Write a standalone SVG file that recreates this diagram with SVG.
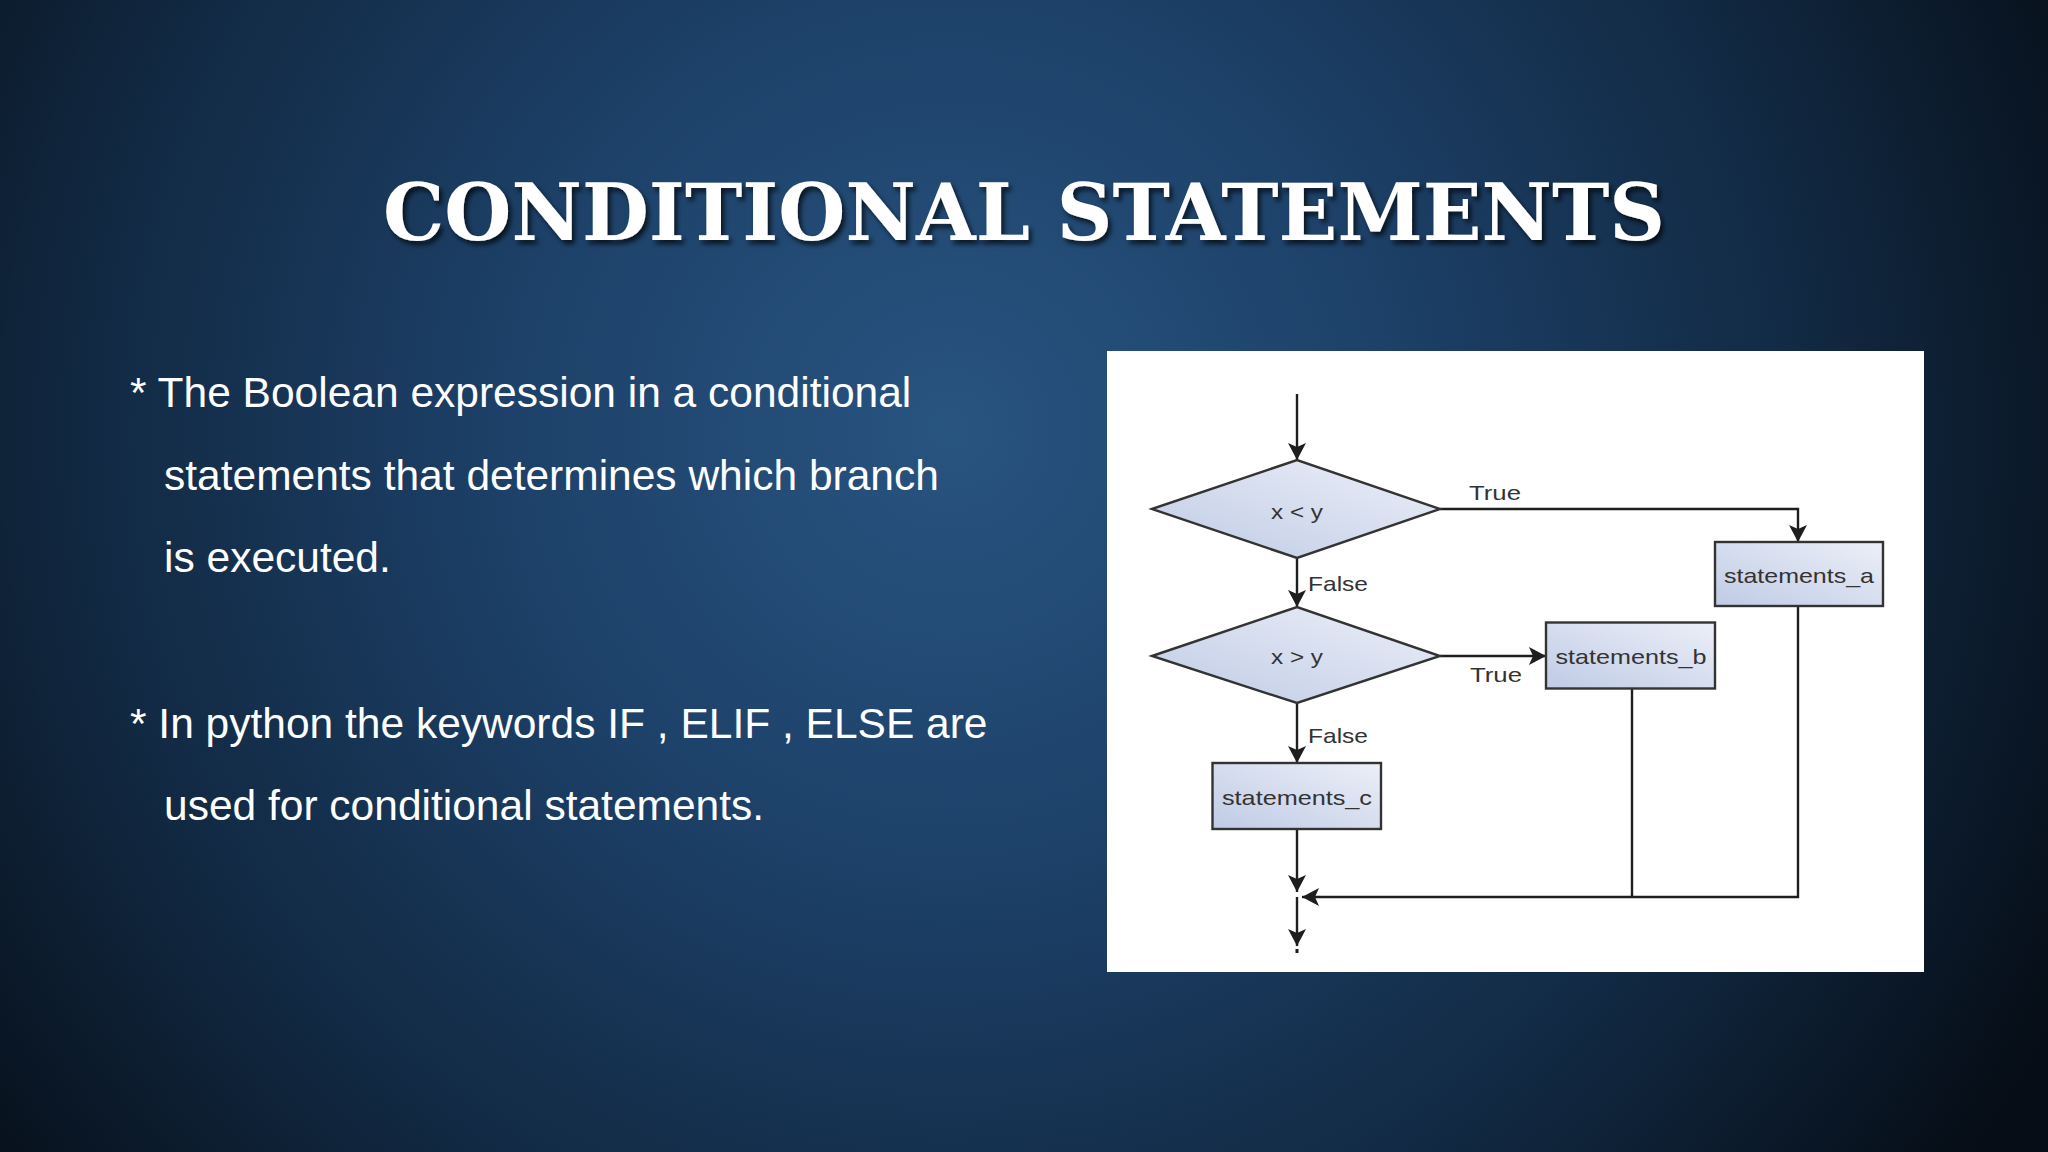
<svg xmlns="http://www.w3.org/2000/svg" width="2048" height="1152" viewBox="0 0 2048 1152">
  <defs>
    <radialGradient id="bg" cx="950" cy="430" r="1250" gradientUnits="userSpaceOnUse">
      <stop offset="0" stop-color="#285480"/>
      <stop offset="0.35" stop-color="#1d4169"/>
      <stop offset="0.7" stop-color="#112841"/>
      <stop offset="1" stop-color="#060d16"/>
    </radialGradient>
    <linearGradient id="nodeFill" x1="0" y1="1" x2="1" y2="0">
      <stop offset="0" stop-color="#bfcbe5"/>
      <stop offset="1" stop-color="#eceff8"/>
    </linearGradient>
    <filter id="shadow" x="-5%" y="-20%" width="110%" height="150%">
      <feDropShadow dx="3" dy="4" stdDeviation="2.5" flood-color="#000" flood-opacity="0.7"/>
    </filter>
    <marker id="arrow" viewBox="0 0 17 18" refX="17" refY="9" markerWidth="17" markerHeight="18" markerUnits="userSpaceOnUse" orient="auto">
      <path d="M0,0 L17,9 L0,18 L4,9 z" fill="#1e1e1e"/>
    </marker>
    <style>
      .title { font-family: "DejaVu Serif", "Liberation Serif", serif; font-weight: bold; font-size: 79px; fill: #ffffff; }
      .body { font-family: "Liberation Sans", Arial, sans-serif; font-size: 42.5px; fill: #ffffff; }
      .node { fill: url(#nodeFill); stroke: #333; stroke-width: 2.4; }
      .lbl { font-family: "Liberation Sans", Arial, sans-serif; font-size: 21px; fill: #333; }
      .conn { fill: none; stroke: #1e1e1e; stroke-width: 2.4; }
    </style>
  </defs>

  <rect x="0" y="0" width="2048" height="1152" fill="url(#bg)"/>

  <g id="title">
    <text class="title" x="383" y="240" textLength="1282" lengthAdjust="spacingAndGlyphs" filter="url(#shadow)">CONDITIONAL STATEMENTS</text>
  </g>

  <g id="body-text">
    <text class="body" x="130" y="407">* The Boolean expression in a conditional</text>
    <text class="body" x="164" y="490">statements that determines which branch</text>
    <text class="body" x="164" y="572">is executed.</text>
    <text class="body" x="130" y="738">* In python the keywords IF , ELIF , ELSE are</text>
    <text class="body" x="164" y="820">used for conditional statements.</text>
  </g>

  <g id="panel">
    <rect x="1107" y="351" width="817" height="621" fill="#ffffff"/>
  </g>

  <g id="connectors">
    <path class="conn" d="M1297,394 V460" marker-end="url(#arrow)"/>
    <path class="conn" d="M1440,509 H1798 V542" marker-end="url(#arrow)"/>
    <path class="conn" d="M1297,558 V607" marker-end="url(#arrow)"/>
    <path class="conn" d="M1440,656 H1546" marker-end="url(#arrow)"/>
    <path class="conn" d="M1297,703 V763" marker-end="url(#arrow)"/>
    <path class="conn" d="M1297,829 V892" marker-end="url(#arrow)"/>
    <path class="conn" d="M1632,688 V897"/>
    <path class="conn" d="M1798,606 V897 H1302" marker-end="url(#arrow)"/>
    <path class="conn" d="M1297,897 V946" marker-end="url(#arrow)"/>
    <rect x="1295.5" y="949" width="3" height="4" fill="#1e1e1e"/>
    <text class="lbl" x="1469" y="500" textLength="52" lengthAdjust="spacingAndGlyphs">True</text>
    <text class="lbl" x="1308" y="591" textLength="60" lengthAdjust="spacingAndGlyphs">False</text>
    <text class="lbl" x="1470" y="682" textLength="52" lengthAdjust="spacingAndGlyphs">True</text>
    <text class="lbl" x="1308" y="743" textLength="60" lengthAdjust="spacingAndGlyphs">False</text>
  </g>

  <g id="cond1">
    <polygon class="node" points="1152,509 1297,460 1440,509 1297,558"/>
    <text class="lbl" x="1297" y="519" text-anchor="middle" textLength="52" lengthAdjust="spacingAndGlyphs">x &lt; y</text>
  </g>

  <g id="cond2">
    <polygon class="node" points="1152,656 1297,607 1440,656 1297,703"/>
    <text class="lbl" x="1297" y="664" text-anchor="middle" textLength="52" lengthAdjust="spacingAndGlyphs">x &gt; y</text>
  </g>

  <g id="statements_a">
    <rect class="node" x="1715" y="542" width="168" height="64"/>
    <text class="lbl" x="1799" y="583" text-anchor="middle" textLength="150" lengthAdjust="spacingAndGlyphs">statements_a</text>
  </g>

  <g id="statements_b">
    <rect class="node" x="1546" y="622.5" width="169" height="66"/>
    <text class="lbl" x="1631" y="664" text-anchor="middle" textLength="151" lengthAdjust="spacingAndGlyphs">statements_b</text>
  </g>

  <g id="statements_c">
    <rect class="node" x="1212.5" y="763" width="168.5" height="66"/>
    <text class="lbl" x="1297" y="805" text-anchor="middle" textLength="150" lengthAdjust="spacingAndGlyphs">statements_c</text>
  </g>
</svg>
